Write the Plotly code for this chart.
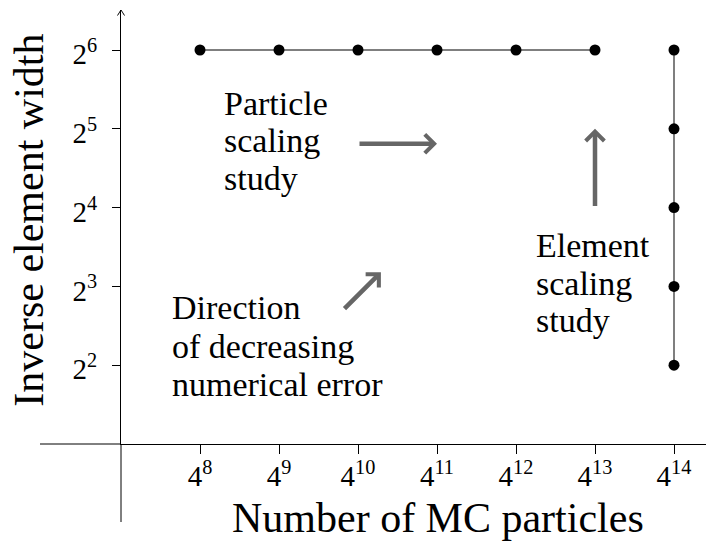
import math
import plotly.graph_objects as go

# ---------------- data ----------------
particle_exps = [8, 9, 10, 11, 12, 13]          # particle scaling study: N = 4^e
particle_counts = [4 ** e for e in particle_exps]
particle_widths = [2 ** 6] * len(particle_exps)

element_exps = [2, 3, 4, 5, 6]                 # element scaling study: 1/h = 2^e
element_widths = [2 ** e for e in element_exps]
element_counts = [4 ** 14] * len(element_exps)

x_tick_exps = [8, 9, 10, 11, 12, 13, 14]
x_tick_vals = [4 ** e for e in x_tick_exps]
x_tick_text = [f"4<sup>{e}</sup>" for e in x_tick_exps]

y_tick_exps = [2, 3, 4, 5, 6]
y_tick_vals = [2 ** e for e in y_tick_exps]
y_tick_text = [f"2<sup>{e}</sup>" for e in y_tick_exps]

# arrows (tail exponent -> head exponent), x in base 4, y in base 2
arrow_tail_x = [10.0, 13.0, 9.81]
arrow_tail_y = [4.81, 4.0, 2.70]
arrow_head_x = [11.0, 13.0, 10.29]
arrow_head_y = [4.81, 5.0, 3.18]

# text blocks (lines)
particle_text = ["Particle", "scaling", "study"]
element_text = ["Element", "scaling", "study"]
direction_text = ["Direction", "of decreasing", "numerical error"]

# ---------------- layout geometry ----------------
W, H = 706, 541
L, R, T, B = 121, 0, 10, 97
PW = W - L - R
PH = H - T - B
XPX = 79.0     # px per power of 4
YPX = 78.8     # px per power of 2
x_lo, x_hi = 7.0, 7.0 + PW / XPX
y_lo, y_hi = 1.0, 1.0 + PH / YPX

FONT = "Liberation Serif"
L4, L2 = math.log10(4), math.log10(2)

def px2paper_x(px):
    return (px - L) / PW

def py2paper_y(py):
    return (H - B - py) / PH

fig = go.Figure()
fig.add_trace(go.Scatter(
    x=particle_counts, y=particle_widths, mode="lines+markers",
    line=dict(color="#555555", width=1.5),
    marker=dict(color="black", size=11), cliponaxis=False, showlegend=False))
fig.add_trace(go.Scatter(
    x=element_counts, y=element_widths, mode="lines+markers",
    line=dict(color="#555555", width=1.5),
    marker=dict(color="black", size=11), cliponaxis=False, showlegend=False))

annotations = []
for tx, ty, hx, hy in zip(arrow_tail_x, arrow_tail_y, arrow_head_x, arrow_head_y):
    annotations.append(dict(
        x=hx * L4, y=hy * L2, ax=tx * L4, ay=ty * L2,
        xref="x", yref="y", axref="x", ayref="y",
        text="", showarrow=True, arrowhead=4, arrowsize=0.8,
        arrowwidth=4.5, arrowcolor="#666666", standoff=0))

def add_block(lines, left_px, baselines, size=34):
    for txt, bl in zip(lines, baselines):
        annotations.append(dict(
            x=px2paper_x(left_px), y=py2paper_y(bl - 0.34 * size),
            xref="paper", yref="paper", xanchor="left", yanchor="middle",
            text=txt, showarrow=False,
            font=dict(family=FONT, size=size, color="black")))

add_block(particle_text, 222, [115, 152, 190])
add_block(element_text, 534, [257, 295, 332])
add_block(direction_text, 170, [319, 358, 396])

# axis titles
annotations.append(dict(
    x=px2paper_x(437.5), y=py2paper_y(532 - 0.34 * 42),
    xref="paper", yref="paper", xanchor="center", yanchor="middle",
    text="Number of MC particles", showarrow=False,
    font=dict(family=FONT, size=42, color="black")))
annotations.append(dict(
    x=px2paper_x(43 - 0.34 * 42), y=py2paper_y(220),
    xref="paper", yref="paper", xanchor="center", yanchor="middle",
    text="Inverse element width", showarrow=False, textangle=-90,
    font=dict(family=FONT, size=42, color="black")))

shapes = [
    # x axis extension to the left
    dict(type="line", xref="paper", yref="paper",
         x0=px2paper_x(40), x1=0, y0=0, y1=0,
         line=dict(color="black", width=1)),
    # y axis extension downward
    dict(type="line", xref="paper", yref="paper",
         x0=0, x1=0, y0=0, y1=py2paper_y(522),
         line=dict(color="black", width=1)),
    # y axis arrow tip
    dict(type="path", xref="paper", yref="paper",
         xsizemode="pixel", ysizemode="pixel", xanchor=0, yanchor=1,
         path="M-3.5,-5.5 Q-1,-1.5 0,0 Q1,-1.5 3.5,-5.5",
         line=dict(color="black", width=1)),
]

fig.update_layout(
    width=W, height=H,
    margin=dict(l=L, r=R, t=T, b=B, pad=0),
    paper_bgcolor="white", plot_bgcolor="white",
    showlegend=False,
    annotations=annotations, shapes=shapes,
    xaxis=dict(type="log", range=[x_lo * L4, x_hi * L4],
               tickmode="array", tickvals=x_tick_vals, ticktext=x_tick_text,
               showgrid=False, zeroline=False, showline=True,
               linecolor="black", linewidth=1,
               ticks="outside", ticklen=9, tickcolor="black", tickwidth=1,
               ticklabelstandoff=-3,
               tickfont=dict(family=FONT, size=29, color="black")),
    yaxis=dict(type="log", range=[y_lo * L2, y_hi * L2],
               tickmode="array", tickvals=y_tick_vals, ticktext=y_tick_text,
               showgrid=False, zeroline=False, showline=True,
               linecolor="black", linewidth=1,
               ticks="outside", ticklen=8, tickcolor="black", tickwidth=1,
               ticklabelstandoff=9, ticklabelshift=4,
               tickfont=dict(family=FONT, size=29, color="black")),
)

fig.write_html("out.html")
